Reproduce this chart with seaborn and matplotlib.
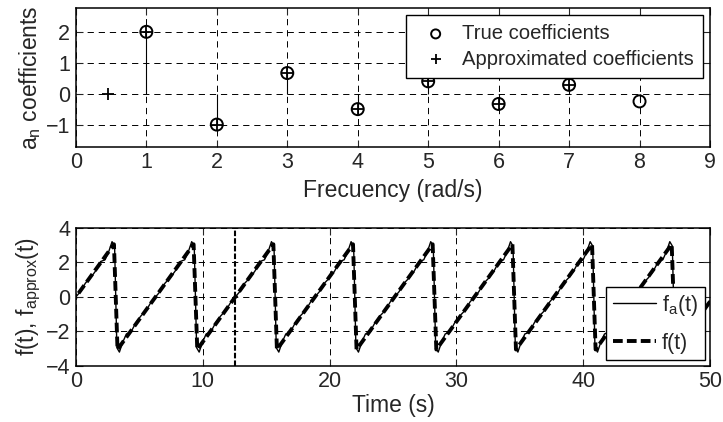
import matplotlib
matplotlib.use("Agg")
import matplotlib.pyplot as plt
import seaborn as sns
import pandas as pd

# ---- data: top panel (Fourier coefficients) ----
freq_true = [1, 2, 3, 4, 5, 6, 7, 8]
coef_true = [2.0, -1.0, 0.667, -0.5, 0.4, -0.333, 0.286, -0.25]
freq_approx = [0.45, 1, 2, 3, 4, 5, 6, 7]
coef_approx = [0.0, 2.0, -1.0, 0.667, -0.5, 0.4, -0.333, 0.286]

# ---- data: bottom panel (sawtooth and its approximation) ----
period_centers = [0.0, 6.28, 12.57, 18.85, 25.13, 31.42, 37.70, 43.98, 50.27]
f_offsets = [-3.0, 3.0]
f_values = [-3.05, 3.05]
fa_offsets = [-3.05, -2.85, -2.6, -2.3, -1.95, -1.55, -1.15, -0.75, -0.35, 0.0,
              0.35, 0.75, 1.15, 1.55, 1.95, 2.3, 2.6, 2.85, 3.05]
fa_values = [-2.95, -3.2, -2.65, -2.15, -2.05, -1.5, -1.1, -0.8, -0.3, 0.0,
             0.3, 0.8, 1.1, 1.5, 2.05, 2.15, 2.65, 3.2, 2.95]
marker_time = 12.57

sns.set_style("ticks")
plt.rcParams["font.family"] = ["Liberation Sans", "DejaVu Sans"]
plt.rcParams["mathtext.default"] = "regular"
plt.rcParams["lines.scale_dashes"] = False

TICK_FS = 15.5
LABEL_FS = 16.5

fig = plt.figure(figsize=(7.23, 4.22), dpi=100)
ax1 = fig.add_axes([0.105, 0.652, 0.877, 0.329])
ax2 = fig.add_axes([0.105, 0.133, 0.877, 0.327])

grid_kw = dict(color="k", linestyle=(0, (4.5, 3.5)), linewidth=0.7)

# ---- top panel ----
ax1.vlines(freq_true, 0, coef_true, color="k", linewidth=0.8, zorder=2)
sns.scatterplot(x=freq_true, y=coef_true, ax=ax1, marker="o", s=75,
                facecolor="none", edgecolor="k", linewidth=1.4,
                label="True coefficients", zorder=3)
sns.scatterplot(x=freq_approx, y=coef_approx, ax=ax1, marker="+", s=75,
                color="k", linewidth=1.3, label="Approximated coefficients", zorder=4)
ax1.set_xlim(0, 9)
ax1.set_ylim(-1.72, 2.77)
ax1.set_xticks(range(0, 10))
ax1.set_yticks([-1, 0, 1, 2])
ax1.grid(True, **grid_kw)
ax1.set_xlabel("Frecuency (rad/s)", fontsize=LABEL_FS, labelpad=4)
ax1.set_ylabel("a$_n$ coefficients", fontsize=LABEL_FS, labelpad=2)
leg1 = ax1.legend(loc="upper right", fontsize=14.6, frameon=True, fancybox=False,
                  edgecolor="k", framealpha=1, borderpad=0.45, labelspacing=0.32,
                  handlelength=2.0, handletextpad=0.3, borderaxespad=0.35,
                  markerscale=0.75)
leg1.get_frame().set_linewidth(1.0)

# ---- bottom panel ----
t_f = [c + o for c in period_centers for o in f_offsets]
y_f = [v for c in period_centers for v in f_values]
t_fa = [c + o for c in period_centers for o in fa_offsets]
y_fa = [v for c in period_centers for v in fa_values]

sns.lineplot(x=t_fa, y=y_fa, ax=ax2, color="k", linewidth=1.0, sort=False,
             estimator=None, label="f$_a$(t)")
sns.lineplot(x=t_f, y=y_f, ax=ax2, color="k", linewidth=2.8, sort=False,
             estimator=None, linestyle=(0, (7, 3)), label="f(t)")
ax2.axvline(marker_time, color="k", linewidth=1.5, linestyle=(0, (4, 1.5)))
ax2.set_xlim(0, 50)
ax2.set_ylim(-4, 4)
ax2.set_xticks([0, 10, 20, 30, 40, 50])
ax2.set_yticks([-4, -2, 0, 2, 4])
ax2.grid(True, **grid_kw)
ax2.set_xlabel("Time (s)", fontsize=LABEL_FS, labelpad=1)
ax2.set_ylabel("f(t), f$_{approx}$(t)", fontsize=LABEL_FS, labelpad=2)
leg2 = ax2.legend(loc="lower right", fontsize=15.5, frameon=True, fancybox=False,
                  edgecolor="k", framealpha=1, borderpad=0.3, labelspacing=0.7,
                  handlelength=2.0, handletextpad=0.3, borderaxespad=0.25)
leg2.get_frame().set_linewidth(1.0)

for ax in (ax1, ax2):
    ax.tick_params(direction="in", top=True, right=True, length=5, width=0.8,
                   labelsize=TICK_FS, pad=4)
    for sp in ax.spines.values():
        sp.set_visible(True)
        sp.set_linewidth(1.1)
        sp.set_color("k")

fig.savefig("out.png", dpi=100, facecolor="white")
